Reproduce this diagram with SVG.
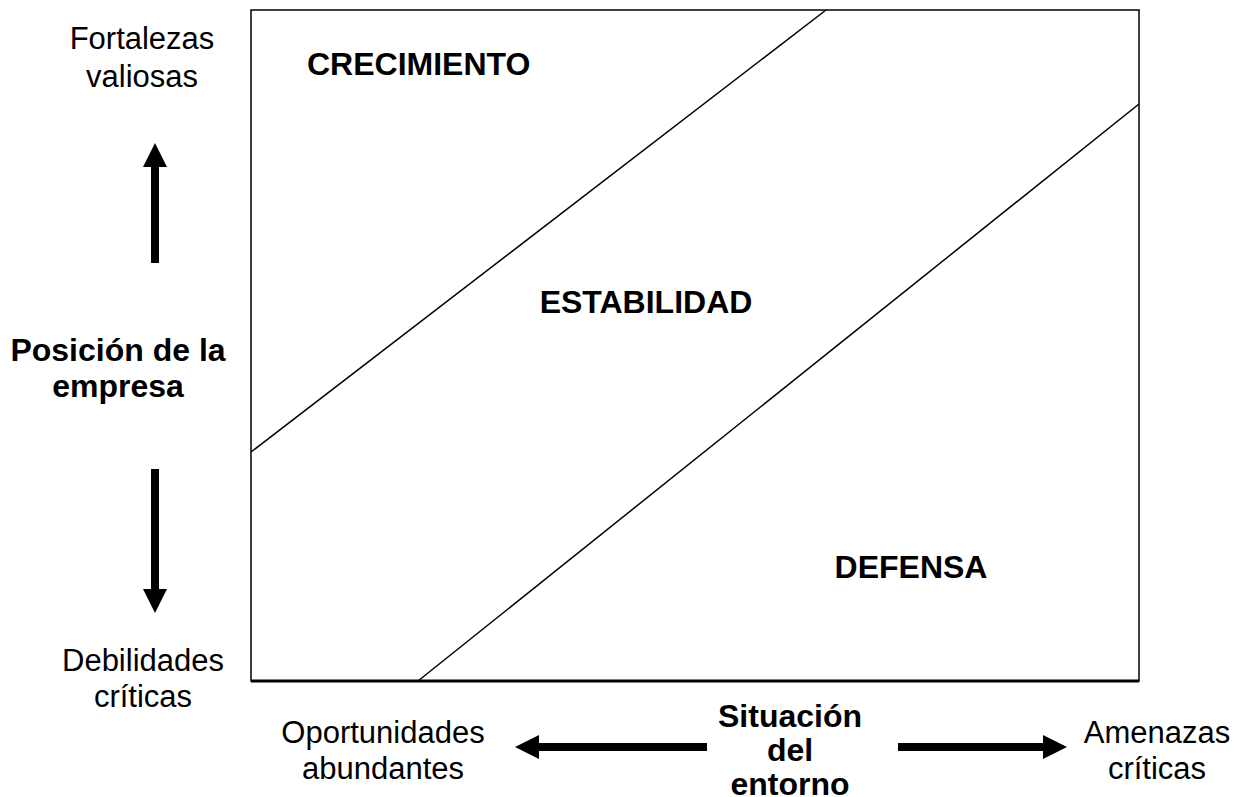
<svg xmlns="http://www.w3.org/2000/svg" width="1250" height="797" viewBox="0 0 1250 797">
<style>
.t{font-family:"Liberation Sans",Arial,sans-serif;font-size:31px;fill:#000}
.b{font-family:"Liberation Sans",Arial,sans-serif;font-size:32px;font-weight:bold;fill:#000}
.s{font-family:"Liberation Sans",Arial,sans-serif;font-size:30px;font-weight:bold;fill:#000}
.ln{stroke:#000;stroke-width:1.5;fill:none}
</style>
<rect width="1250" height="797" fill="#fff"/>
<g id="matrix">
<rect x="251" y="10" width="888" height="671" class="ln" stroke-width="2"/>
<line x1="251" y1="681" x2="1139" y2="681" stroke="#000" stroke-width="3"/>
</g>
<g id="connectors">
<line x1="251" y1="452" x2="826" y2="10" class="ln"/>
<line x1="418" y1="681" x2="1139" y2="104" class="ln"/>
<polygon points="151,263 159,263 159,167 167,167 155,143 143,167 151,167" fill="#000"/>
<polygon points="151,469 159,469 159,589 167,589 155,613 143,589 151,589" fill="#000"/>
<polygon points="707,743 707,751 539,751 539,759 515,747 539,735 539,743" fill="#000"/>
<polygon points="898,743 898,751 1043,751 1043,759 1067,747 1043,735 1043,743" fill="#000"/>
</g>
<g id="crecimiento"><text class="b" x="307" y="75">CRECIMIENTO</text></g>
<g id="estabilidad"><text class="b" x="646" y="313" text-anchor="middle">ESTABILIDAD</text></g>
<g id="defensa"><text class="b" x="911" y="578" text-anchor="middle">DEFENSA</text></g>
<g id="fortalezas"><text class="t" x="142" y="49" text-anchor="middle">Fortalezas</text><text class="t" x="142" y="87" text-anchor="middle">valiosas</text></g>
<g id="posicion"><text class="b" x="118" y="361" text-anchor="middle">Posición de la</text><text class="b" x="118" y="397" text-anchor="middle">empresa</text></g>
<g id="debilidades"><text class="t" x="143" y="671" text-anchor="middle">Debilidades</text><text class="t" x="143" y="707" text-anchor="middle">críticas</text></g>
<g id="oportunidades"><text class="t" x="383" y="743" text-anchor="middle">Oportunidades</text><text class="t" x="383" y="779" text-anchor="middle">abundantes</text></g>
<g id="situacion"><text class="b" x="790" y="727" text-anchor="middle">Situación</text><text class="b" x="790" y="761" text-anchor="middle">del</text><text class="b" x="790" y="795" text-anchor="middle">entorno</text></g>
<g id="amenazas"><text class="t" x="1157" y="743" text-anchor="middle">Amenazas</text><text class="t" x="1157" y="779" text-anchor="middle">críticas</text></g>
</svg>
